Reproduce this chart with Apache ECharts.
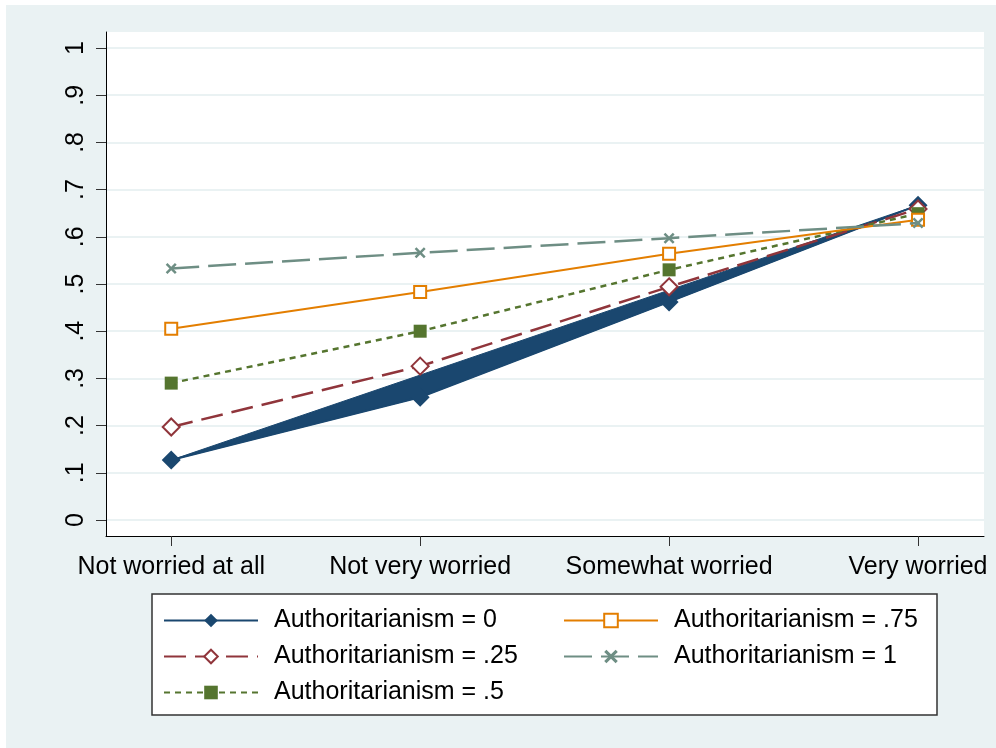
<!DOCTYPE html>
<html>
<head>
<meta charset="utf-8">
<script src="https://cdn.jsdelivr.net/npm/echarts@6/dist/echarts.min.js"></script>
<style>
html,body{margin:0;padding:0;background:#fff;}
#c{width:996px;height:748px;}
</style>
</head>
<body>
<div id="c"></div>
<script>
const categories = ['Not worried at all', 'Not very worried', 'Somewhat worried', 'Very worried'];
const yTicks = [0, 0.1, 0.2, 0.3, 0.4, 0.5, 0.6, 0.7, 0.8, 0.9, 1];
const seriesNames = ['Authoritarianism = 0', 'Authoritarianism = .25', 'Authoritarianism = .5', 'Authoritarianism = .75', 'Authoritarianism = 1'];
const auth0 = [0.127, 0.260, 0.462, 0.667];
const auth25 = [0.197, 0.326, 0.494, 0.659];
const auth50 = [0.290, 0.400, 0.530, 0.649];
const auth75 = [0.405, 0.483, 0.564, 0.636];
const auth100 = [0.533, 0.566, 0.597, 0.629];

const FONT = 'Liberation Sans, Arial, sans-serif';
const toXY = arr => arr.map((v, i) => [i, v]);
const xMark = 'path://M1.6,0L5,3.4L8.4,0L10,1.6L6.6,5L10,8.4L8.4,10L5,6.6L1.6,10L0,8.4L3.4,5L0,1.6Z';

const chart = echarts.init(document.getElementById('c'), null, {renderer: 'canvas'});
const legendCommon = {orient: 'vertical', top: 608, padding: 0, itemWidth: 94, itemHeight: 17, itemGap: 11,
  textStyle: {fontSize: 25, color: '#000', fontFamily: FONT, padding: [0, 0, 0, 11]}};
const option = {
  animation: false,
  backgroundColor: '#ffffff',
  textStyle: {fontFamily: FONT},
  graphic: [
    {type: 'rect', z: -10, silent: true, shape: {x: 6, y: 5, width: 990, height: 743}, style: {fill: '#EAF2F3'}},
    {type: 'rect', z: 1, silent: true, shape: {x: 152, y: 594, width: 785, height: 121}, style: {fill: '#ffffff', stroke: '#333333', lineWidth: 1.5}}
  ],
  grid: {left: 106, top: 32, right: 12, bottom: 212, show: true, backgroundColor: '#ffffff', borderWidth: 0},
  xAxis: {
    type: 'value', min: -0.262, max: 3.265,
    axisLine: {show: true, onZero: false, lineStyle: {color: '#000', width: 1}},
    axisTick: {show: true, length: 10, customValues: [0, 1, 2, 3], lineStyle: {color: '#333'}},
    axisLabel: {customValues: [0, 1, 2, 3], formatter: v => categories[Math.round(v)], fontSize: 25, color: '#000', margin: 19, fontFamily: FONT},
    splitLine: {show: false}
  },
  yAxis: {
    type: 'value', min: -0.0339, max: 1.0339,
    axisLine: {show: true, onZero: false, lineStyle: {color: '#000', width: 1}},
    axisTick: {show: true, length: 10, customValues: yTicks, lineStyle: {color: '#333'}},
    axisLabel: {customValues: yTicks, rotate: 90, fontSize: 25, color: '#000', margin: 17, fontFamily: FONT,
      formatter: v => { if (Math.abs(v) < 1e-9) return '0'; if (Math.abs(v - 1) < 1e-9) return '1'; return ('' + (+v.toFixed(1))).replace(/^0/, ''); }},
    splitLine: {show: true, lineStyle: {color: '#EAF2F3', width: 2}}
  },
  legend: [
    Object.assign({left: 163, data: [seriesNames[0], seriesNames[1], seriesNames[2]]}, legendCommon),
    Object.assign({left: 563, data: [seriesNames[3], seriesNames[4]]}, legendCommon)
  ],
  series: [
    {
      type: 'custom', name: 'band', z: 2, silent: true,
      data: toXY(auth0),
      renderItem: function (params, api) {
        if (params.dataIndex !== 0) return null;
        const pts = auth0.map((v, i) => api.coord([i, v]));
        return {type: 'polygon', shape: {points: pts}, style: {fill: '#1A476F', stroke: '#1A476F', lineWidth: 1}};
      }
    },
    {name: seriesNames[0], type: 'line', z: 3, data: toXY(auth0), symbol: 'diamond', symbolSize: 19,
      lineStyle: {color: '#1A476F', width: 2}, itemStyle: {color: '#1A476F'}},
    {name: seriesNames[1], type: 'line', z: 4, data: toXY(auth25), symbol: 'diamond', symbolSize: 17,
      lineStyle: {color: '#90353B', width: 2.5, type: [22, 9]}, itemStyle: {color: '#ffffff', borderColor: '#90353B', borderWidth: 2}},
    {name: seriesNames[2], type: 'line', z: 5, data: toXY(auth50), symbol: 'rect', symbolSize: 13,
      lineStyle: {color: '#55752F', width: 2.5, type: [6, 5]}, itemStyle: {color: '#55752F'}},
    {name: seriesNames[3], type: 'line', z: 6, data: toXY(auth75), symbol: 'rect', symbolSize: 12,
      lineStyle: {color: '#E37E00', width: 2}, itemStyle: {color: '#ffffff', borderColor: '#E37E00', borderWidth: 2}},
    {name: seriesNames[4], type: 'line', z: 7, data: toXY(auth100), symbol: xMark, symbolSize: 11,
      lineStyle: {color: '#6E8E84', width: 2.5, type: [28, 9]}, itemStyle: {color: '#6E8E84'}}
  ]
};
chart.setOption(option);
</script>
</body>
</html>
